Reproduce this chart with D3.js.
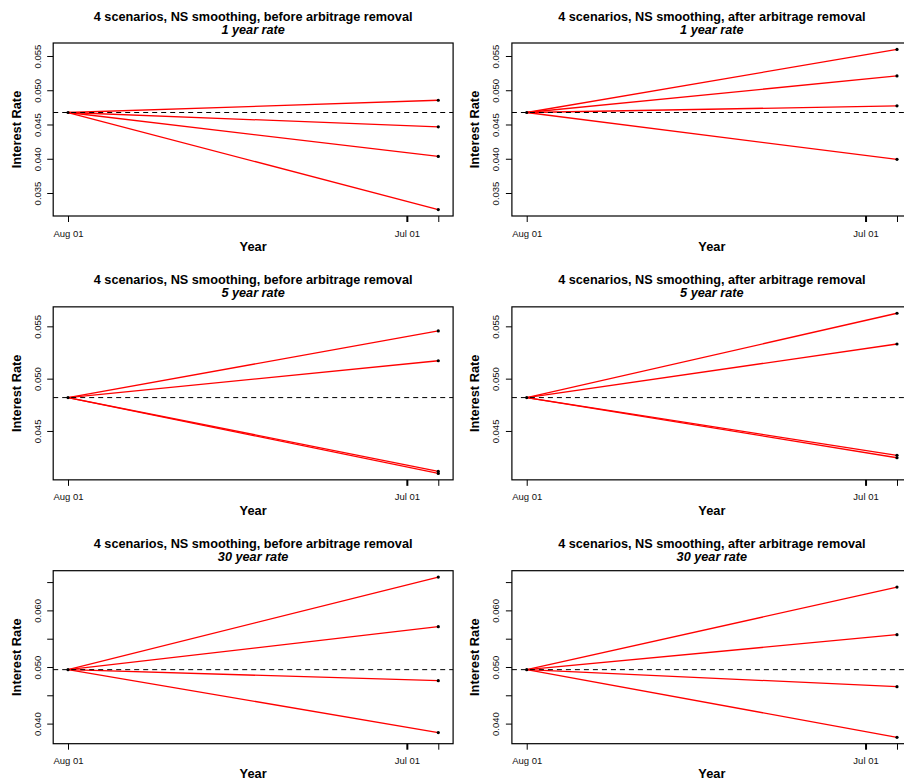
<!DOCTYPE html>
<html>
<head>
<meta charset="utf-8">
<script src="https://cdn.jsdelivr.net/npm/d3@7"></script>
<style>
  html, body { margin: 0; padding: 0; background: #fff; }
  svg { display: block; }
</style>
</head>
<body>
<svg id="chart" width="904" height="780"></svg>
<script>
// Rate maturities (one row each) and the two smoothing stages (one column each)
const rates = ["1 year rate", "5 year rate", "30 year rate"];
const stageTitles = [
  "4 scenarios, NS smoothing, before arbitrage removal",
  "4 scenarios, NS smoothing, after arbitrage removal"
];

// Horizon of the scenarios
const startDate = "2009-08-01";
const endDate = "2010-08-01";

// Current rate for each maturity (also drawn as the dashed reference line)
const startRate = [0.04675, 0.04819, 0.04953];

// Scenario rates at the horizon, before arbitrage removal
const beforeEnd = [
  [0.04854, 0.04466, 0.04034, 0.03258],
  [0.05456, 0.05171, 0.04114, 0.04094],
  [0.06588, 0.05713, 0.04759, 0.03841]
];

// Scenario rates at the horizon, after arbitrage removal
const afterEnd = [
  [0.05596, 0.05209, 0.04772, 0.03991],
  [0.05625, 0.05331, 0.04267, 0.04244],
  [0.06412, 0.05571, 0.04653, 0.03758]
];

// Axis ticks
const yTicks = [
  [0.035, 0.040, 0.045, 0.050, 0.055],
  [0.045, 0.050, 0.055],
  [0.040, 0.045, 0.050, 0.055, 0.060, 0.065]
];
const yTickLabels = [
  ["0.035", "0.040", "0.045", "0.050", "0.055"],
  ["0.045", "0.050", "0.055"],
  ["0.040", "", "0.050", "", "0.060", ""]
];
const xTickDates = ["2009-08-01", "2010-07-01", "2010-08-01"];
const xTickLabels = ["Aug 01", "Jul 01", ""];

// Layout
const FONT = "'Liberation Sans', Arial, Helvetica, sans-serif";
const plotW = 399.9, plotH = 173;
const left0 = 53.2, top0 = 43;
const colPitch = 458.7, rowPitch = 263.85;

const parse = d3.timeParse("%Y-%m-%d");
const t0 = parse(startDate), t1 = parse(endDate);
const span = t1 - t0;

const svg = d3.select("#chart");
svg.append("rect").attr("width", 904).attr("height", 780).attr("fill", "#fff");

const x = d3.scaleTime()
  .domain([new Date(+t0 - 0.04 * span), new Date(+t1 + 0.04 * span)])
  .range([0, plotW]);

rates.forEach((rate, i) => {
  // Both stages of a maturity share one y range
  const all = [startRate[i], ...beforeEnd[i], ...afterEnd[i]];
  const [lo, hi] = d3.extent(all);
  const pad = (hi - lo) * 0.04;
  const y = d3.scaleLinear().domain([lo - pad, hi + pad]).range([plotH, 0]);

  [beforeEnd, afterEnd].forEach((stage, j) => {
    const ends = stage[i];
    const g = svg.append("g")
      .attr("transform", `translate(${left0 + j * colPitch},${top0 + i * rowPitch})`);

    // x axis
    const xAxis = g.append("g")
      .attr("transform", `translate(0,${plotH})`)
      .call(d3.axisBottom(x)
        .tickValues(xTickDates.map(parse))
        .tickSize(6)
        .tickFormat((d, k) => xTickLabels[k]));
    xAxis.select(".domain").remove();
    xAxis.attr("font-family", FONT).attr("font-size", 9.5);
    xAxis.selectAll(".tick line").attr("stroke-width", (d, k) => k === 1 ? 2 : 1);
    xAxis.selectAll(".tick text").attr("y", 20.5).attr("dy", 0).attr("fill", "#111");

    // y axis with vertical labels
    const yAxis = g.append("g")
      .call(d3.axisLeft(y)
        .tickValues(yTicks[i])
        .tickSize(6)
        .tickFormat((d, k) => yTickLabels[i][k]));
    yAxis.select(".domain").remove();
    yAxis.attr("font-family", FONT).attr("font-size", 9.5);
    yAxis.selectAll(".tick text")
      .attr("x", 0).attr("dy", 0)
      .attr("text-anchor", "middle")
      .attr("transform", "translate(-12.6,0) rotate(-90)")
      .attr("fill", "#111");

    // scenario paths
    g.selectAll("line.scenario")
      .data(ends)
      .join("line")
      .attr("class", "scenario")
      .attr("x1", x(t0)).attr("y1", y(startRate[i]))
      .attr("x2", x(t1)).attr("y2", d => y(d))
      .attr("stroke", "#ff0000")
      .attr("stroke-width", 1.3);

    // current level
    g.append("line")
      .attr("x1", 0).attr("x2", plotW)
      .attr("y1", y(startRate[i])).attr("y2", y(startRate[i]))
      .attr("stroke", "#000")
      .attr("stroke-width", 1)
      .attr("stroke-dasharray", "5,4");

    // end points
    g.selectAll("circle.pt")
      .data([{ t: t0, v: startRate[i] }, ...ends.map(v => ({ t: t1, v }))])
      .join("circle")
      .attr("class", "pt")
      .attr("cx", d => x(d.t)).attr("cy", d => y(d.v))
      .attr("r", 1.6)
      .attr("fill", "#000");

    // frame
    g.append("rect")
      .attr("width", plotW).attr("height", plotH)
      .attr("fill", "none").attr("stroke", "#000").attr("stroke-width", 1.2);

    // titles
    g.append("text")
      .attr("x", plotW / 2).attr("y", -22.5)
      .attr("text-anchor", "middle")
      .attr("font-family", FONT).attr("font-size", 12.7).attr("font-weight", "bold")
      .text(stageTitles[j]);
    g.append("text")
      .attr("x", plotW / 2).attr("y", -9.5)
      .attr("text-anchor", "middle")
      .attr("font-family", FONT).attr("font-size", 12.7)
      .attr("font-weight", "bold").attr("font-style", "italic")
      .text(rate);

    // axis titles
    g.append("text")
      .attr("x", plotW / 2).attr("y", plotH + 34.8)
      .attr("text-anchor", "middle")
      .attr("font-family", FONT).attr("font-size", 12.8).attr("font-weight", "bold")
      .text("Year");
    g.append("text")
      .attr("transform", `translate(-32.5,${plotH / 2}) rotate(-90)`)
      .attr("text-anchor", "middle")
      .attr("font-family", FONT).attr("font-size", 12.8).attr("font-weight", "bold")
      .text("Interest Rate");
  });
});
</script>
</body>
</html>
